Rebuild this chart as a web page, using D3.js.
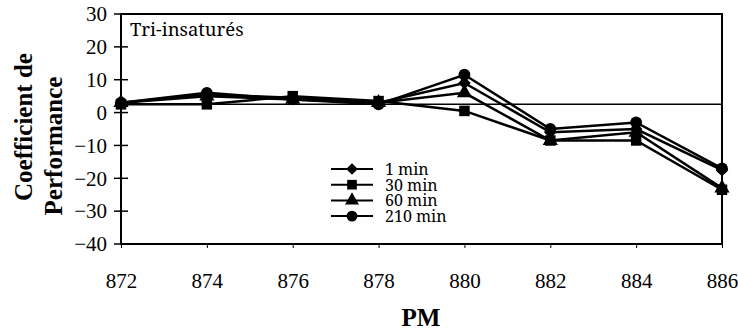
<!DOCTYPE html>
<html><head><meta charset="utf-8">
<script src="https://cdn.jsdelivr.net/npm/d3@7"></script>
<style>body{margin:0;background:#fff}svg{display:block}</style>
</head><body>
<svg id="c" width="738" height="330"></svg>
<script>
const pm = [872, 874, 876, 878, 880, 882, 884, 886];
const s1min = [3, 5.5, 4.5, 3, 9, -6, -5, -17.5];
const s30min = [2.5, 2.5, 5, 3.5, 0.5, -8.5, -8.5, -23.5];
const s60min = [3, 5, 4, 3, 6, -8.5, -6, -23];
const s210min = [3, 6, 4, 2.5, 11.5, -5, -3, -17];
const seriesNames = ["1 min", "30 min", "60 min", "210 min"];
const seriesSymbols = ["diamond", "square", "triangle", "circle"];
const yTicks = [30, 20, 10, 0, -10, -20, -30, -40];
const xTicks = [872, 874, 876, 878, 880, 882, 884, 886];
const refValue = 2.5;
const panelLabel = "Tri-insaturés";
const yTitle = ["Coefficient de", "Performance"];
const xTitle = "PM";

const SERIF = "Liberation Serif";
const series = [s1min, s30min, s60min, s210min];
const svg = d3.select("#c");
const m = {l: 121, r: 722, t: 14, b: 244};
const x = d3.scaleLinear().domain([872, 886]).range([m.l, m.r]);
const y = d3.scaleLinear().domain([-40, 30]).range([m.b, m.t]);

// plot frame
svg.append("rect").attr("x", m.l).attr("y", m.t).attr("width", m.r - m.l).attr("height", m.b - m.t)
  .attr("fill", "none").attr("stroke", "#000").attr("stroke-width", 2);

// reference line
svg.append("line").attr("x1", m.l).attr("x2", m.r).attr("y1", y(refValue)).attr("y2", y(refValue))
  .attr("stroke", "#000").attr("stroke-width", 1.5);

// y axis
const ya = svg.append("g").attr("transform", `translate(${m.l},0)`)
  .call(d3.axisLeft(y).tickValues(yTicks).tickSize(0).tickPadding(14).tickFormat(d3.format("d")));
ya.attr("font-family", SERIF).attr("font-size", 21);
ya.select(".domain").remove();
ya.selectAll("text").attr("font-family", SERIF).attr("font-size", 21).attr("fill", "#000");
yTicks.forEach(t => {
  svg.append("line").attr("x1", m.l - 7).attr("x2", m.l + 7).attr("y1", y(t)).attr("y2", y(t))
    .attr("stroke", "#000").attr("stroke-width", 1.5);
});

// x axis
const xa = svg.append("g").attr("transform", `translate(0,${m.b})`)
  .call(d3.axisBottom(x).tickValues(xTicks).tickSize(4).tickPadding(25).tickFormat(d3.format("d")));
xa.attr("font-family", SERIF).attr("font-size", 21);
xa.select(".domain").remove();
xa.selectAll("line").attr("stroke-width", 1);
xa.selectAll("text").attr("font-family", SERIF).attr("font-size", 21).attr("fill", "#000");

// lines
const line = d3.line().x((d, i) => x(pm[i])).y(d => y(d));
const symTypes = {diamond: d3.symbolSquare, square: d3.symbolSquare, triangle: d3.symbolTriangle, circle: d3.symbolCircle};
const symRot = {diamond: 45, square: 0, triangle: 0, circle: 0};
const symSizes = {diamond: 80, square: 110, triangle: 100, circle: 110};
series.forEach((s, k) => {
  svg.append("path").datum(s).attr("d", line).attr("fill", "none").attr("stroke", "#000").attr("stroke-width", 2.5);
});
series.forEach((s, k) => {
  const nm = seriesSymbols[k];
  const sym = d3.symbol().type(symTypes[nm]).size(symSizes[nm]);
  svg.append("g").selectAll("path").data(s).join("path")
    .attr("transform", (d, i) => `translate(${x(pm[i])},${y(d)}) rotate(${symRot[nm]})`)
    .attr("d", sym).attr("fill", "#000");
});

// legend
const lg = svg.append("g");
seriesNames.forEach((n, k) => {
  const yy = 169 + k * 15.7;
  const nm = seriesSymbols[k];
  lg.append("line").attr("x1", 331).attr("x2", 373).attr("y1", yy).attr("y2", yy)
    .attr("stroke", "#000").attr("stroke-width", 2);
  const sym = d3.symbol().type(symTypes[nm]).size(symSizes[nm] * 0.85);
  lg.append("path").attr("d", sym).attr("transform", `translate(352,${yy}) rotate(${symRot[nm]})`).attr("fill", "#000");
  lg.append("text").attr("x", 385).attr("y", yy + 6).attr("font-family", "Noto Serif").attr("font-size", 16)
    .attr("fill", "#000").text(n);
});

// panel label
svg.append("text").attr("x", 130).attr("y", 36).attr("font-family", "Noto Serif").attr("font-size", 18.5)
  .attr("fill", "#000").text(panelLabel);

// y title
svg.append("text").attr("transform", "translate(32,127) rotate(-90)").attr("text-anchor", "middle")
  .attr("font-family", SERIF).attr("font-size", 25).attr("font-weight", "bold").attr("fill", "#000").text(yTitle[0]);
svg.append("text").attr("transform", "translate(62,146) rotate(-90)").attr("text-anchor", "middle")
  .attr("font-family", SERIF).attr("font-size", 25).attr("font-weight", "bold").attr("fill", "#000").text(yTitle[1]);

// x title
svg.append("text").attr("x", 421).attr("y", 326).attr("text-anchor", "middle")
  .attr("font-family", SERIF).attr("font-size", 25).attr("font-weight", "bold").attr("fill", "#000").text(xTitle);
</script>
</body></html>
